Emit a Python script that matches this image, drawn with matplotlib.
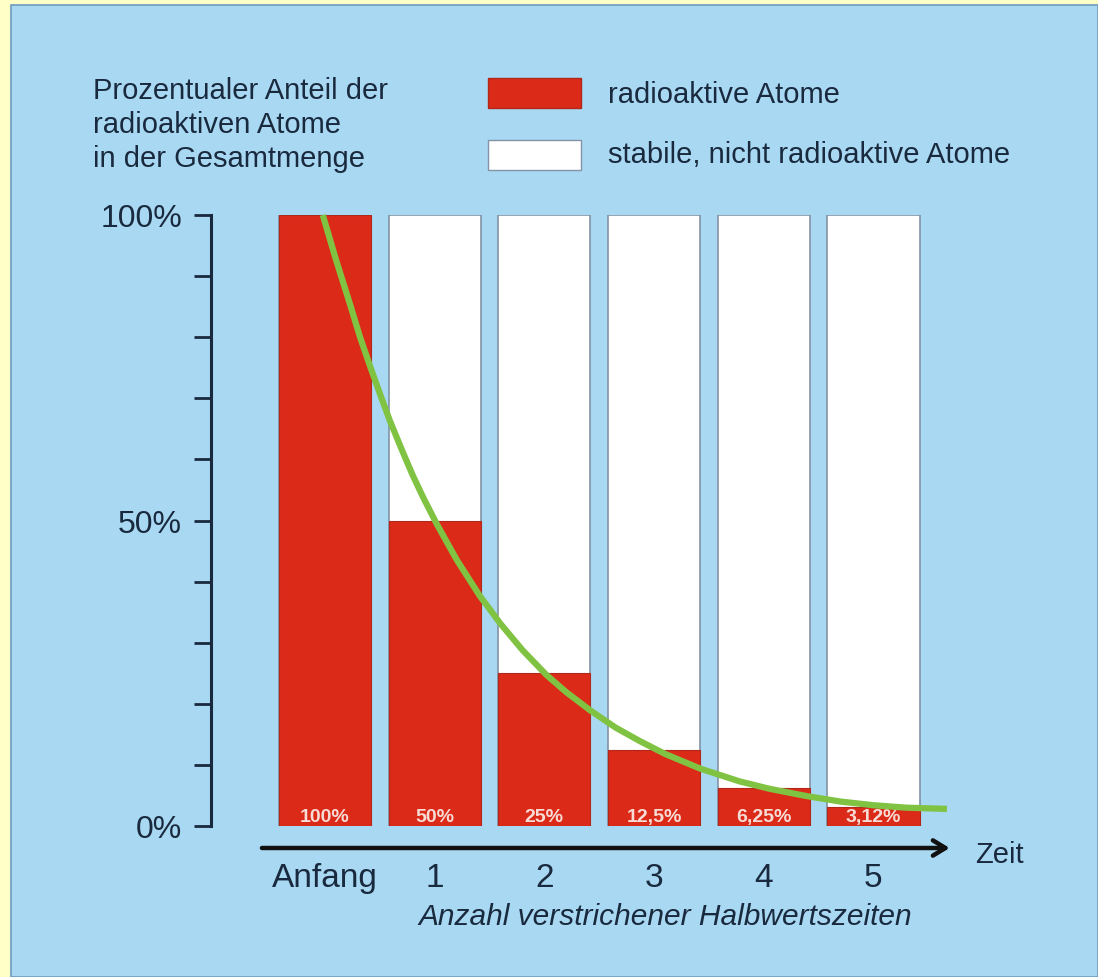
import matplotlib
matplotlib.use("Agg")
import matplotlib.pyplot as plt
from matplotlib.patches import Rectangle

plt.rcParams['font.family'] = ['Liberation Sans', 'DejaVu Sans']

# data
steps = ['Anfang', '1', '2', '3', '4', '5']
radioactive = [100, 50, 25, 12.5, 6.25, 3.125]
bar_labels = ['100%', '50%', '25%', '12,5%', '6,25%', '3,12%']
total = [100, 100, 100, 100, 100, 100]

# green decay curve
curve_x = [-0.02, 0.10, 0.23, 0.32, 0.41, 0.50, 0.59, 0.70, 0.80, 0.90, 1.02, 1.20,
           1.41, 1.60, 1.80, 2.02, 2.20, 2.42, 2.65, 2.87, 3.10, 3.42, 3.78, 4.05,
           4.39, 4.70, 5.00, 5.30, 5.67]
curve_y = [100, 92.7, 85.3, 80.0, 75.3, 70.8, 66.4, 61.6, 57.4, 53.6, 49.4, 43.6,
           37.7, 33.1, 28.8, 24.7, 21.9, 18.9, 16.1, 13.9, 11.8, 9.4, 7.3, 6.1,
           4.9, 4.0, 3.4, 3.0, 2.8]

yticks = list(range(0, 101, 10))
ytick_labels = ['0%', '', '', '', '', '50%', '', '', '', '', '100%']

W, H = 1098, 978
BG = '#a9d8f3'
RED = '#dc2a18'
GREEN = '#80c342'
TXT = '#1a2a3e'


def fx(px):
    return px / W


def fy(py):
    return 1 - py / H


fig = plt.figure(figsize=(W / 100, H / 100), dpi=100)
fig.patch.set_facecolor('#ffffc8')
fig.add_artist(Rectangle((fx(11), 0), 1 - fx(11), fy(6), transform=fig.transFigure,
                         facecolor=BG, edgecolor='#6d9cbd', linewidth=1.2, zorder=0))

ax = fig.add_axes([fx(211), fy(827), fx(960) - fx(211), (827 - 216) / H])
ax.set_facecolor('none')
ax.set_xlim(-1.039, 5.789)
ax.set_ylim(0, 100)

x = range(len(steps))
ax.bar(x, total, width=0.84, color='white', edgecolor='#8392a4', linewidth=1.2, zorder=2)
ax.bar(x, radioactive, width=0.84, color=RED, edgecolor='#b0281a', linewidth=0.8, zorder=3)
for i, lab in enumerate(bar_labels):
    ax.text(i, 1.5, lab, ha='center', va='center', color='#f7dcd6',
            fontsize=14, fontweight='bold', zorder=4)

ax.plot(curve_x, curve_y, color=GREEN, linewidth=4.5, solid_capstyle='butt',
        solid_joinstyle='round', clip_on=False, zorder=5)

# axes styling
for s in ['top', 'right', 'bottom']:
    ax.spines[s].set_visible(False)
ax.spines['left'].set_color(TXT)
ax.spines['left'].set_linewidth(2.2)
ax.set_yticks(yticks)
ax.set_yticklabels(ytick_labels)
ax.tick_params(axis='y', direction='out', length=12.2, width=2.0, color=TXT,
               labelcolor=TXT, labelsize=23, pad=8.6)
ax.set_xticks([])

# time arrow
ax.annotate('', xy=(5.72, -3.6), xytext=(-0.60, -3.6), xycoords='data',
            annotation_clip=False,
            arrowprops=dict(arrowstyle='->,head_length=0.9,head_width=0.55',
                            color='#111111', linewidth=3.2))
ax.text(5.93, -4.6, 'Zeit', ha='left', va='center', fontsize=21, color=TXT)

for i, s in enumerate(steps):
    ax.text(i, -9.9, s, ha='center', va='baseline', fontsize=24, color=TXT)
ax.text(3.10, -14.8, 'Anzahl verstrichener Halbwertszeiten', ha='center', va='center',
        fontsize=21.5, style='italic', color=TXT)

# y label block, top left
for py, line in zip([99, 133, 167], ['Prozentualer Anteil der', 'radioaktiven Atome',
                                     'in der Gesamtmenge']):
    fig.text(fx(93), fy(py), line, ha='left', va='baseline', fontsize=21, color=TXT)

# legend
fig.add_artist(Rectangle((fx(488), fy(109)), fx(93), 30 / H, transform=fig.transFigure,
                         facecolor=RED, edgecolor='#b0281a', linewidth=1))
fig.add_artist(Rectangle((fx(488), fy(171)), fx(93), 30 / H, transform=fig.transFigure,
                         facecolor='white', edgecolor='#8392a4', linewidth=1))
fig.text(fx(608), fy(95), 'radioaktive Atome', ha='left', va='center', fontsize=21, color=TXT)
fig.text(fx(608), fy(155), 'stabile, nicht radioaktive Atome', ha='left', va='center',
         fontsize=21, color=TXT)

fig.savefig('out.png', dpi=100, facecolor=fig.get_facecolor())
